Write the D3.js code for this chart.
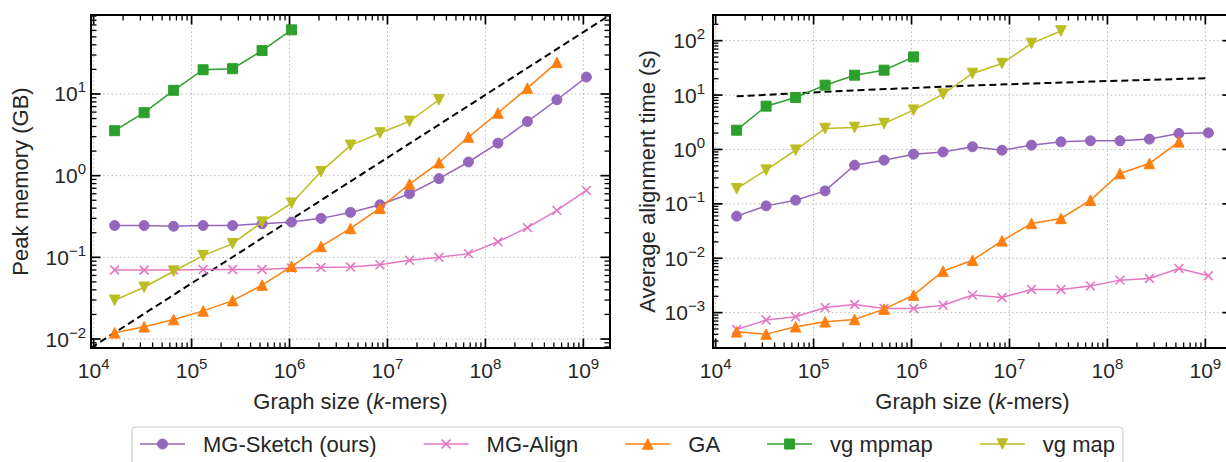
<!DOCTYPE html>
<html>
<head>
<meta charset="utf-8">
<script src="https://cdn.jsdelivr.net/npm/d3@7"></script>
<style>
  body { margin: 0; background: #fff; }
  svg { display: block; font-family: "Liberation Sans", Arial, Helvetica, sans-serif; }
</style>
</head>
<body>
<svg id="chart" width="1226" height="462"></svg>
<script>
// graph sizes in k-mers (2^14 .. 2^30)
const graphSizes = [16384, 32768, 65536, 131072, 262144, 524288, 1048576, 2097152, 4194304,
  8388608, 16777216, 33554432, 67108864, 134217728, 268435456, 536870912, 1073741824];

const seriesNames = ["MG-Sketch (ours)", "MG-Align", "GA", "vg mpmap", "vg map"];

// peak memory (GB)
const memSketch = [0.245, 0.245, 0.24, 0.245, 0.245, 0.258, 0.27, 0.30, 0.355, 0.44, 0.60, 0.92, 1.47, 2.5, 4.6, 8.5, 16.1];
const memAlign = [0.070, 0.070, 0.070, 0.071, 0.071, 0.071, 0.074, 0.075, 0.076, 0.081, 0.092, 0.100, 0.111, 0.155, 0.231, 0.376, 0.66];
const memGA = [0.0119, 0.0141, 0.0173, 0.0221, 0.0295, 0.0457, 0.0776, 0.136, 0.226, 0.40, 0.79, 1.44, 2.97, 5.85, 11.8, 24.4];
const memMpmap = [3.55, 5.9, 11.1, 19.8, 20.4, 34, 61];
const memMap = [0.0298, 0.043, 0.0676, 0.105, 0.147, 0.27, 0.46, 1.12, 2.35, 3.33, 4.62, 8.5];
const memRefX = [9400, 1.87e9];
const memRefY = [0.0078, 92.7];

// average alignment time (s)
const timeSketch = [0.0594, 0.0918, 0.117, 0.173, 0.514, 0.636, 0.82, 0.90, 1.12, 0.97, 1.2, 1.38, 1.44, 1.44, 1.55, 1.97, 2.02];
const timeAlign = [0.00049, 0.00073, 0.00084, 0.00124, 0.00141, 0.00119, 0.00119, 0.00137, 0.0021, 0.0019, 0.00267, 0.00267, 0.0031, 0.00396, 0.00425, 0.0065, 0.00475];
const timeGA = [0.000444, 0.000403, 0.00055, 0.00068, 0.00075, 0.00116, 0.0021, 0.0058, 0.0092, 0.0209, 0.0436, 0.054, 0.117, 0.362, 0.553, 1.38];
const timeMpmap = [2.26, 6.25, 9.0, 15.2, 23.2, 28.7, 50.3];
const timeMap = [0.19, 0.417, 0.97, 2.43, 2.54, 3.0, 5.28, 10.4, 25, 38, 89, 151];
const timeRefX = [16384, 262144, 4194304, 67108864, 1073741824];
const timeRefY = [9.5, 12.2, 15.0, 17.7, 20.5];

const xMajors = [1e4, 1e5, 1e6, 1e7, 1e8, 1e9];
const memMajors = [1e-2, 1e-1, 1e0, 1e1];
const timeMajors = [1e-3, 1e-2, 1e-1, 1e0, 1e1, 1e2];

const colors = ["#9467bd", "#e377c2", "#ff7f0e", "#2ca02c", "#bcbd22"];
const markers = ["circle", "x", "up", "square", "down"];
const textColor = "#262626";

const svg = d3.select("#chart");
const plotTop = 15, plotBottom = 348;

const panels = [
  {
    id: "mem", left: 91, right: 610,
    yDomain: [Math.pow(10, -2.11), Math.pow(10, 1.967)],
    yMajors: memMajors, yLabel: "Peak memory (GB)", yLabelX: 20, labelPad: 5,
    series: [memSketch, memAlign, memGA, memMpmap, memMap],
    refX: memRefX, refY: memRefY
  },
  {
    id: "time", left: 713, right: 1232,
    yDomain: [Math.pow(10, -3.65), Math.pow(10, 2.472)],
    yMajors: timeMajors, yLabel: "Average alignment time (s)", yLabelX: 647, labelPad: 8,
    series: [timeSketch, timeAlign, timeGA, timeMpmap, timeMap],
    refX: timeRefX, refY: timeRefY
  }
];

function markerPath(type) {
  const s = 10.5;
  if (type === "up") return `M0,${-s / 2}L${s / 2},${s / 2}L${-s / 2},${s / 2}Z`;
  if (type === "down") return `M0,${s / 2}L${s / 2},${-s / 2}L${-s / 2},${-s / 2}Z`;
  if (type === "square") return "M-5,-5H5V5H-5Z";
  if (type === "x") return "M-4.4,-4.4L4.4,4.4M-4.4,4.4L4.4,-4.4";
  return d3.symbol(d3.symbolCircle, Math.PI * 5 * 5)();
}

function drawMarker(g, type, color) {
  if (type === "x") {
    g.append("path").attr("d", markerPath(type))
      .attr("fill", "none").attr("stroke", color).attr("stroke-width", 1.6);
  } else {
    g.append("path").attr("d", markerPath(type))
      .attr("fill", color).attr("stroke", color).attr("stroke-width", 1);
  }
}

function powerLabel(sel, v) {
  const e = Math.round(Math.log10(v));
  sel.append("tspan").text("10");
  sel.append("tspan")
    .attr("dy", -9)
    .attr("font-size", 15)
    .text(e < 0 ? "\u2212" + (-e) : String(e));
}

panels.forEach(p => {
  const x = d3.scaleLog().domain([Math.pow(10, 3.973), Math.pow(10, 9.272)]).range([p.left, p.right]);
  const y = d3.scaleLog().domain(p.yDomain).range([plotBottom, plotTop]);

  const g = svg.append("g").attr("class", "panel-" + p.id);

  g.append("clipPath").attr("id", "clip-" + p.id)
    .append("rect")
    .attr("x", p.left).attr("y", plotTop)
    .attr("width", p.right - p.left).attr("height", plotBottom - plotTop);

  // grid
  const grid = g.append("g").attr("stroke", "#b8b8b8").attr("stroke-width", 1)
    .attr("stroke-dasharray", "1.5,2.6");
  grid.selectAll("line.gx").data(xMajors.filter(v => x(v) > p.left + 1)).join("line")
    .attr("class", "gx")
    .attr("x1", d => x(d)).attr("x2", d => x(d))
    .attr("y1", plotTop).attr("y2", plotBottom);
  grid.selectAll("line.gy").data(p.yMajors).join("line")
    .attr("class", "gy")
    .attr("x1", p.left).attr("x2", p.right)
    .attr("y1", d => y(d)).attr("y2", d => y(d));

  const plot = g.append("g").attr("clip-path", `url(#clip-${p.id})`);

  // reference dashed line
  plot.append("path")
    .datum(p.refX.map((v, i) => [v, p.refY[i]]))
    .attr("fill", "none")
    .attr("stroke", "#000")
    .attr("stroke-width", 2)
    .attr("stroke-dasharray", "7,4")
    .attr("d", d3.line().x(d => x(d[0])).y(d => y(d[1])));

  p.series.forEach((values, si) => {
    const pts = values.map((v, i) => [graphSizes[i], v]);
    plot.append("path")
      .datum(pts)
      .attr("fill", "none")
      .attr("stroke", colors[si])
      .attr("stroke-width", 1.5)
      .attr("d", d3.line().x(d => x(d[0])).y(d => y(d[1])));
    const mg = plot.append("g");
    pts.forEach(d => {
      const m = mg.append("g").attr("transform", `translate(${x(d[0])},${y(d[1])})`);
      drawMarker(m, markers[si], colors[si]);
    });
  });

  // ticks (inward, all four sides)
  const xMinors = x.ticks().filter(v => !xMajors.includes(v));
  const yMinors = y.ticks().filter(v => !p.yMajors.some(m => Math.abs(m - v) / m < 1e-6));

  const ax = g.append("g");
  const tick = (vals, len, width, fn) => {
    vals.forEach(v => {
      const t = fn(v, len);
      ax.append("line").attr("x1", t[0]).attr("y1", t[1]).attr("x2", t[2]).attr("y2", t[3])
        .attr("stroke", "#000").attr("stroke-width", width);
    });
  };
  const xIn = v => x(v) >= p.left - 0.5 && x(v) <= p.right + 0.5;
  const yIn = v => y(v) <= plotBottom + 0.5 && y(v) >= plotTop - 0.5;
  [[xMajors.filter(xIn), 9.5, 1.7], [xMinors.filter(xIn), 5.5, 1.3]].forEach(([vals, len, w]) => {
    tick(vals, len, w, (v, l) => [x(v), plotBottom, x(v), plotBottom - l]);
    tick(vals, len, w, (v, l) => [x(v), plotTop, x(v), plotTop + l]);
  });
  [[p.yMajors.filter(yIn), 9.5, 1.7], [yMinors.filter(yIn), 5.5, 1.3]].forEach(([vals, len, w]) => {
    tick(vals, len, w, (v, l) => [p.left, y(v), p.left + l, y(v)]);
    tick(vals, len, w, (v, l) => [p.right, y(v), p.right - l, y(v)]);
  });

  // spines
  g.append("rect")
    .attr("x", p.left).attr("y", plotTop)
    .attr("width", p.right - p.left).attr("height", plotBottom - plotTop)
    .attr("fill", "none").attr("stroke", "#000").attr("stroke-width", 2);

  // tick labels
  xMajors.forEach(v => {
    g.append("text")
      .attr("x", x(v)).attr("y", 378)
      .attr("text-anchor", "middle")
      .attr("font-size", 21).attr("fill", textColor)
      .call(powerLabel, v);
  });
  p.yMajors.forEach(v => {
    g.append("text")
      .attr("x", p.left - p.labelPad).attr("y", y(v) + 7.5)
      .attr("text-anchor", "end")
      .attr("font-size", 21).attr("fill", textColor)
      .call(powerLabel, v);
  });

  // axis labels
  const xl = g.append("text")
    .attr("x", (p.left + p.right) / 2).attr("y", 409)
    .attr("text-anchor", "middle")
    .attr("font-size", 22).attr("fill", textColor);
  xl.append("tspan").text("Graph size (");
  xl.append("tspan").attr("font-style", "italic").text("k");
  xl.append("tspan").text("-mers)");

  g.append("text")
    .attr("transform", `translate(${p.yLabelX},${(plotTop + plotBottom) / 2}) rotate(-90)`)
    .attr("text-anchor", "middle")
    .attr("dominant-baseline", "central")
    .attr("font-size", 22).attr("fill", textColor)
    .text(p.yLabel);
});

// legend
const legend = svg.append("g");
const legendBox = legend.append("rect")
  .attr("y", 427).attr("height", 48).attr("rx", 4)
  .attr("fill", "#fff").attr("stroke", "#cccccc").attr("stroke-width", 1.2);

let lx = 140;
seriesNames.forEach((name, i) => {
  const item = legend.append("g");
  item.append("line")
    .attr("x1", lx).attr("x2", lx + 45)
    .attr("y1", 444).attr("y2", 444)
    .attr("stroke", colors[i]).attr("stroke-width", 1.5);
  const m = item.append("g").attr("transform", `translate(${lx + 22.5},444)`);
  drawMarker(m, markers[i], colors[i]);
  const t = item.append("text")
    .attr("x", lx + 63).attr("y", 452)
    .attr("font-size", 22).attr("fill", textColor)
    .text(name);
  lx += 63 + t.node().getComputedTextLength() + 47;
});
legendBox.attr("x", 132).attr("width", lx - 47 + 8 - 132);
</script>
</body>
</html>
